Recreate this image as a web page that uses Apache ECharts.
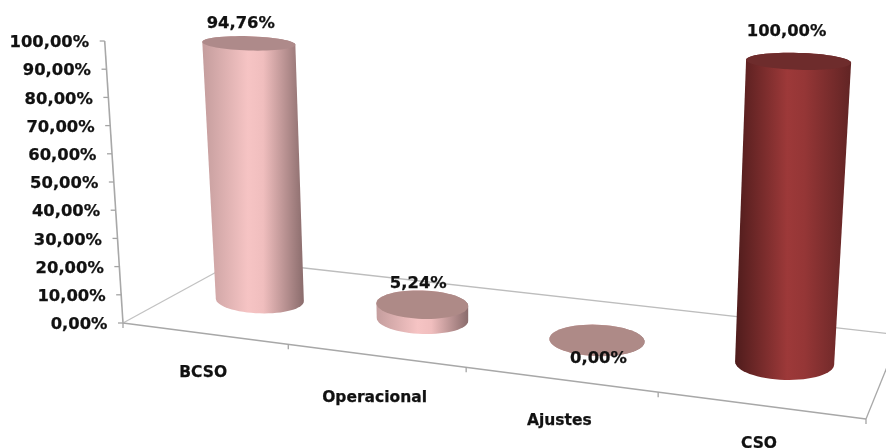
<!DOCTYPE html>
<html><head><meta charset="utf-8">
<style>html,body{margin:0;padding:0;background:#fff}#c{width:886px;height:448px;filter:blur(0.45px)}</style>
<script src="https://cdn.jsdelivr.net/npm/echarts@6/dist/echarts.min.js"></script>
</head><body><div id="c"></div>
<script>
const categories = ['BCSO', 'Operacional', 'Ajustes', 'CSO'];
const values = [94.76, 5.24, 0, 100];
const dataLabels = ['94,76%', '5,24%', '0,00%', '100,00%'];
const tickValues = [0, 10, 20, 30, 40, 50, 60, 70, 80, 90, 100];
const tickLabels = ['0,00%', '10,00%', '20,00%', '30,00%', '40,00%', '50,00%', '60,00%', '70,00%', '80,00%', '90,00%', '100,00%'];

// floor quadrilateral of the 3D view and layout constants
const Q = [[123, 323], [866, 419], [900, 335], [237.5, 260.5]];
const FONT = 'bold 16.4px "DejaVu Sans"';
const CATFONT = 'bold 15.5px "DejaVu Sans"';
const TXT = '#111111';
const TEXTY = 2;
const labelOffsets = [[-8, -21.5], [-4, -23], [1.5, 16.5], [-12, -32]];
const catOffsets = [-1, 2, 1, -1];
const palette = [
  {l:'#c49d9d', m:'#f6c4c4', m2:'#f0bebe', r:'#8a6c6c', top:'#ae8a8a'},
  {l:'#c49d9d', m:'#f6c4c4', m2:'#f0bebe', r:'#8a6c6c', top:'#ae8a87'},
  {l:'#c49d9d', m:'#f6c4c4', m2:'#f0bebe', r:'#8a6c6c', top:'#ae8a87'},
  {l:'#4f1c1c', m:'#9d3939', m2:'#953636', r:'#612424', top:'#6e2c2c'}
];

function homography(q){
  const [x0,y0]=q[0],[x1,y1]=q[1],[x2,y2]=q[2],[x3,y3]=q[3];
  const dx1=x1-x2,dx2=x3-x2,sx=x0-x1+x2-x3,dy1=y1-y2,dy2=y3-y2,sy=y0-y1+y2-y3;
  const den=dx1*dy2-dx2*dy1;
  const g=(sx*dy2-dx2*sy)/den,h=(dx1*sy-sx*dy1)/den;
  const a=x1-x0+g*x1,b=x3-x0+h*x3,d=y1-y0+g*y1,e=y3-y0+h*y3;
  return (s,t)=>{const w=g*s+h*t+1;return [(a*s+b*t+x0)/w,(d*s+e*t+y0)/w];};
}
const floorAt = homography(Q);
function proj(u, d, h){
  const [X, Y] = floorAt(u/4, d);
  const H = 123.4 + 0.491*Y;
  return [X + 0.0488*(X-498)*h/100, Y - H*h/100];
}
function hull(pts){
  const p=pts.slice().sort((a,b)=>a[0]-b[0]||a[1]-b[1]);
  const cr=(o,a,b)=>(a[0]-o[0])*(b[1]-o[1])-(a[1]-o[1])*(b[0]-o[0]);
  const lo=[],up=[];
  for(const q of p){while(lo.length>1&&cr(lo[lo.length-2],lo[lo.length-1],q)<=0)lo.pop();lo.push(q);}
  for(const q of p.slice().reverse()){while(up.length>1&&cr(up[up.length-2],up[up.length-1],q)<=0)up.pop();up.push(q);}
  return lo.slice(0,-1).concat(up.slice(0,-1));
}
const DEPTH=0.49, RD=0.21, TILT=0.03;
function ellipse(u,h){
  const c=proj(u,DEPTH,0), top=proj(u,DEPTH,h), out=[];
  const kx=1+0.06*h/100, ky=1-0.5*h/100;
  const rx=41.3+0.0105*c[0];
  const ry=(floorAt(u/4,DEPTH-RD)[1]-floorAt(u/4,DEPTH+RD)[1])/2;
  for(let i=0;i<64;i++){
    const a=i/64*2*Math.PI, dx=rx*kx*Math.cos(a), dy=ry*ky*Math.sin(a);
    out.push([top[0]+dx, top[1]+dy+TILT*dx]);
  }
  return out;
}
function gridInfo(params, api, i, v){
  const cs=params.coordSys, p=api.coord([i,v]);
  return {u:(p[0]-cs.x)/cs.width*4, h:(cs.y+cs.height-p[1])/cs.height*100, cs};
}
function txt(x,y,text,font,align){
  return {type:'text',z2:10,style:{x:x,y:y+TEXTY,text:text,font:font,fill:TXT,stroke:TXT,lineWidth:0.25,align:align,verticalAlign:'middle'}};
}
function renderFrame(params, api){
  const i=params.dataIndex, tv=api.value(1);
  const {h}=gridInfo(params,api,0,tv);
  const kids=[];
  const line=(a,b,col,w)=>({type:'line',shape:{x1:a[0],y1:a[1],x2:b[0],y2:b[1]},style:{stroke:col,lineWidth:w||1.3}});
  const t=proj(0,0,h);
  kids.push(line(t,[t[0]-5,t[1]],'#a4a4a4'));
  kids.push(txt(t[0]-15.5,t[1],tickLabels[i],FONT,'right'));
  if(i===0){
    const a=proj(0,0,0),b=proj(4,0,0),c=proj(4,1,0),d=proj(0,1,0),top=proj(0,0,100);
    kids.push(line(a,top,'#a8a8a8',1.6));
    kids.push(line(d,a,'#c2c2c2'));
    kids.push(line(d,c,'#bdbdbd'));
    kids.push(line(b,c,'#a8a8a8'));
    kids.push(line(a,b,'#a8a8a8',1.5));
    [0,1,2,3,4].forEach(u=>{const p=proj(u,0,0);kids.push(line(p,[p[0],p[1]+5],'#a4a4a4'));});
    categories.forEach((n,ci)=>{
      const g=gridInfo(params,api,ci,0), p=proj(g.u,0,0);
      kids.push(txt(p[0]-1,p[1]+38+catOffsets[ci],n,CATFONT,'center'));
    });
  }
  return {type:'group',children:kids};
}
function renderCyl(params, api){
  const i=params.dataIndex, v=api.value(1);
  const {u,h}=gridInfo(params,api,i,v);
  const pal=palette[i];
  const bottom=ellipse(u,0), top=ellipse(u,h);
  const tc=proj(u,DEPTH,h), off=labelOffsets[i];
  const grad=new echarts.graphic.LinearGradient(0,0,1,0,[
    {offset:0,color:pal.l},{offset:0.45,color:pal.m},{offset:0.6,color:pal.m2},{offset:1,color:pal.r}]);
  return {type:'group',children:[
    {type:'polygon',shape:{points:hull(bottom.concat(top))},style:{fill:grad}},
    {type:'polygon',shape:{points:top},style:{fill:pal.top}},
    txt(tc[0]+off[0],tc[1]+off[1],dataLabels[i],FONT,'center')
  ]};
}
const chart=echarts.init(document.getElementById('c'));
chart.setOption({
  animation:false,
  backgroundColor:'#fff',
  grid:{left:123,top:41,width:743,height:282},
  xAxis:{type:'category',data:categories,show:false},
  yAxis:{type:'value',min:0,max:100,interval:10,show:false},
  series:[
    {type:'custom',coordinateSystem:'cartesian2d',clip:false,z:1,renderItem:renderFrame,encode:{x:0,y:1},
     data:tickValues.map(v=>[0,v])},
    {type:'custom',coordinateSystem:'cartesian2d',clip:false,z:2,renderItem:renderCyl,encode:{x:0,y:1},
     data:values.map((v,i)=>[i,v])}
  ]
});
</script></body></html>
